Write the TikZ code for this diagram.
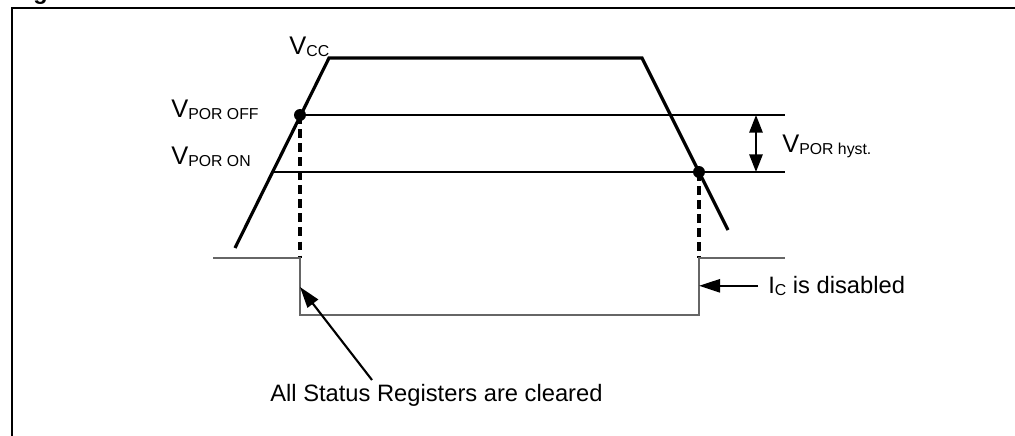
\documentclass[tikz,border=0pt]{standalone}
\usepackage{fontspec}
\setmainfont{Liberation Sans}
\usetikzlibrary{arrows.meta}

\newcommand{\lowtext}[1]{\raisebox{-1.5pt}{\fontsize{9}{10}\selectfont #1}}

\tikzset{
	trace/.style={line width=1.8pt},
	level/.style={line width=0.7pt},
	marker/.style={line width=1.8pt, dash pattern=on 5pt off 3pt},
	logic/.style={line width=0.9pt, draw=black!60},
	pointer/.style={line width=1.2pt, -{Triangle[length=12pt,width=7.5pt]}},
	lbl/.style={inner sep=0pt, anchor=base west, font=\fontsize{13.5}{16}\selectfont},
	vlbl/.style={lbl, font=\fontsize{14.5}{16}\selectfont},
}

\begin{document}
\begin{tikzpicture}[x=0.02cm, y=-0.02cm]
	\useasboundingbox (0,0) rectangle (1015,436);
	% frame and cut off title
	\node[lbl, font=\bfseries\fontsize{13.4}{16}\selectfont] (title) at (12,-1) {Figure};
	\draw[line width=1.4pt] (12,445) -- (12,8) -- (1025,8);
	%
	\coordinate (start) at (235,248);
	\coordinate (risetop) at (329,58);
	\coordinate (falltop) at (642,58);
	\coordinate (stop) at (728,230);
	\coordinate (off) at (300,115);
	\coordinate (on) at (699,172);
	\draw[trace] (start) -- (risetop) -- (falltop) -- (stop);
	%
	\draw[level] (off) -- (785,115);
	\draw[level] (272,172) -- (785,172);
	\draw[line width=1.2pt, {Triangle[length=10pt,width=7.5pt]}-{Triangle[length=10pt,width=7.5pt]}] (756,115) -- (756,172);
	\fill (off) circle (3.4pt);
	\fill (on) circle (3.4pt);
	%
	\draw[marker] (off) -- (300,258);
	\draw[marker] (on) -- (699,258);
	\draw[logic] (213,258) -- (300,258) -- (300,315) -- (699,315) -- (699,258) -- (785,258);
	%
	\node[vlbl] (vcc) at (289,54) {V\lowtext{CC}};
	\node[vlbl] (vpoff) at (171,117) {V\lowtext{POR OFF}};
	\node[vlbl] (vpon) at (171,164) {V\lowtext{POR ON}};
	\node[vlbl] (vhyst) at (782,152) {V\lowtext{POR hyst.}};
	\node[lbl] (icoff) at (768,293) {I\lowtext{C} is disabled};
	\node[lbl] (clear) at (270,401) {All Status Registers are cleared};
	%
	\coordinate (cleartail) at (372,380);
	\coordinate (cleartip) at (300,287);
	\draw[pointer] (cleartail) -- (cleartip);
	\draw[pointer] ([xshift=-0.2cm]icoff.west) -- (on |- icoff.west);
\end{tikzpicture}
\end{document}
